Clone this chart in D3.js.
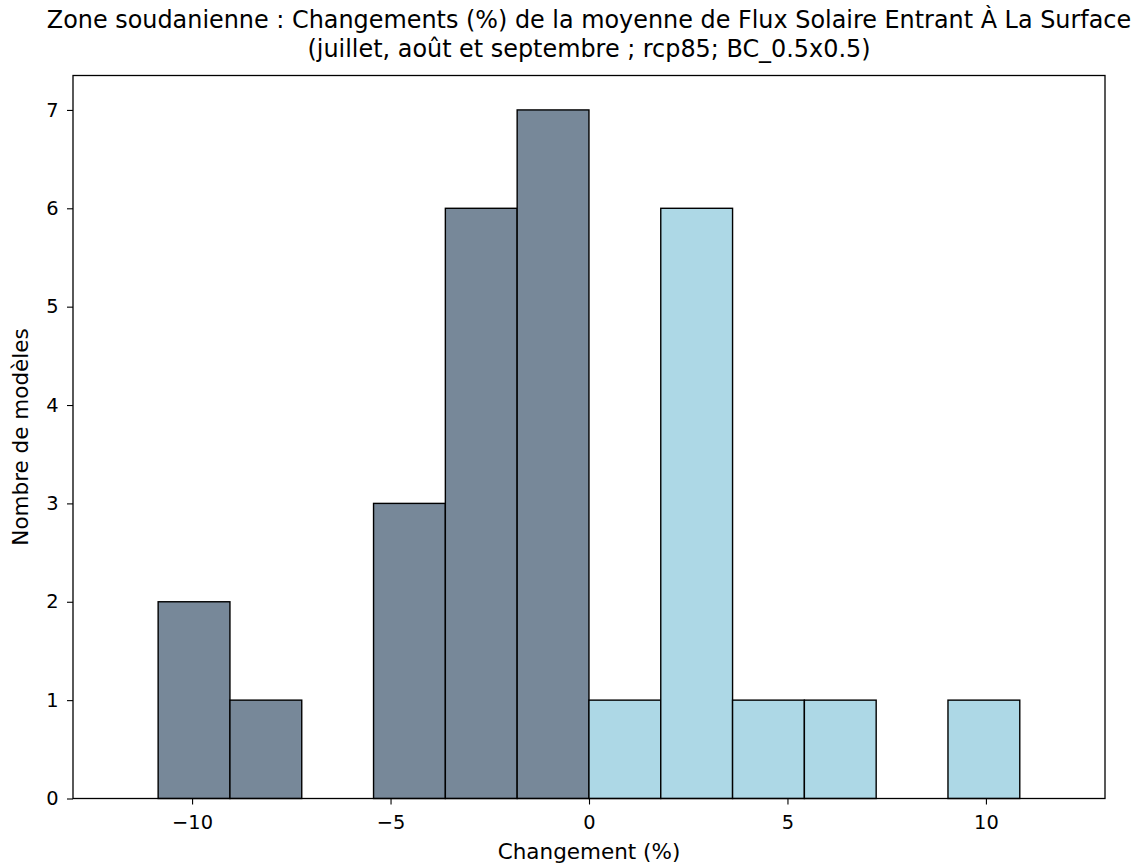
<!DOCTYPE html>
<html><head><meta charset="utf-8">
<script src="https://cdn.jsdelivr.net/npm/d3@7"></script>
<style>body{margin:0;background:#fff;} text{font-family:"DejaVu Sans",sans-serif;fill:#000;}</style>
</head><body>
<svg id="c" width="1138" height="867"></svg>
<script>
const binStart = -10.855;
const binWidth = 1.809;
const counts = [2, 1, 0, 3, 6, 7, 1, 6, 1, 1, 0, 1];
const xTicks = [-10, -5, 0, 5, 10];
const yTicks = [0, 1, 2, 3, 4, 5, 6, 7];
const titleLines = ["Zone soudanienne : Changements (%) de la moyenne de Flux Solaire Entrant À La Surface",
                    "(juillet, août et septembre ; rcp85; BC_0.5x0.5)"];
const xLabel = "Changement (%)";
const yLabel = "Nombre de modèles";

const bins = counts.map((c, i) => ({x0: binStart + i*binWidth, x1: binStart + (i+1)*binWidth, n: c}));

const svg = d3.select("#c");
const L = 73, R = 1105, T = 75.5, B = 798.5;
const x = d3.scaleLinear().domain([-13, 13]).range([L, R]);
const y = d3.scaleLinear().domain([0, 7.35]).range([B, T]);

svg.append("g").selectAll("rect").data(bins.filter(d => d.n > 0)).join("rect")
  .attr("x", d => x(d.x0)).attr("width", d => x(d.x1) - x(d.x0))
  .attr("y", d => y(d.n)).attr("height", d => y(0) - y(d.n))
  .attr("fill", d => (d.x0 + d.x1) / 2 < 0 ? "#778899" : "#add8e6")
  .attr("stroke", "#000").attr("stroke-width", 1.4);

const xa = svg.append("g").attr("transform", `translate(0,${B})`)
  .call(d3.axisBottom(x).tickValues(xTicks).tickSize(6).tickPadding(11).tickFormat(d => d < 0 ? "\u2212" + Math.abs(d) : d));
const ya = svg.append("g").attr("transform", `translate(${L},0)`)
  .call(d3.axisLeft(y).tickValues(yTicks).tickSize(6).tickPadding(8.5));
[xa, ya].forEach(a => {
  a.select(".domain").remove();
  a.selectAll("text").style("font-size", "19.4px").style("font-family", "DejaVu Sans");
  a.selectAll("line").attr("stroke-width", 1.1);
});

svg.append("rect").attr("x", L).attr("y", T).attr("width", R - L).attr("height", B - T)
  .attr("fill", "none").attr("stroke", "#000").attr("stroke-width", 1.3);

const cx = (L + R) / 2;
svg.append("text").attr("x", cx).attr("y", 28).attr("text-anchor", "middle").style("font-size", "23.9px").text(titleLines[0]);
svg.append("text").attr("x", cx).attr("y", 57).attr("text-anchor", "middle").style("font-size", "23.9px").text(titleLines[1]);
svg.append("text").attr("x", cx).attr("y", 859).attr("text-anchor", "middle").style("font-size", "21.5px").text(xLabel);
svg.append("text").attr("transform", `translate(28,${(T+B)/2}) rotate(-90)`).attr("text-anchor", "middle").style("font-size", "21.5px").text(yLabel);
</script>
</body></html>
